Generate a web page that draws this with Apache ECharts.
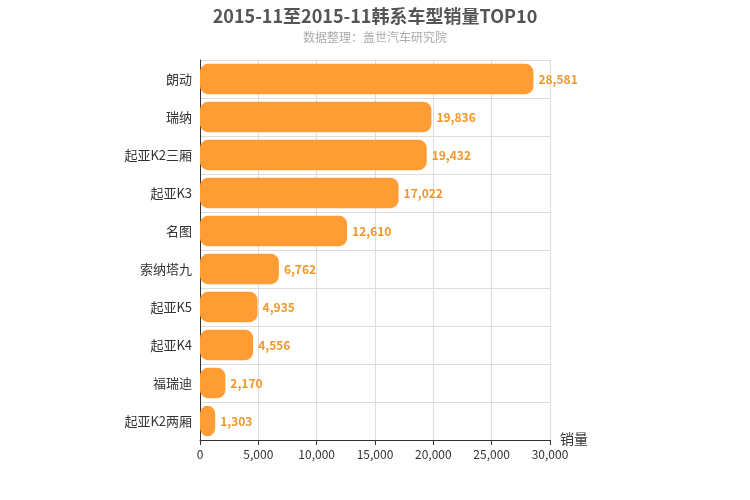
<!DOCTYPE html>
<html>
<head>
<meta charset="UTF-8">
<script src="https://cdn.jsdelivr.net/npm/echarts@6/dist/echarts.min.js"></script>
</head>
<body style="margin:0">
<div id="main" style="width:750px;height:500px"></div>
<script>
var models = ['朗动','瑞纳','起亚K2三厢','起亚K3','名图','索纳塔九','起亚K5','起亚K4','福瑞迪','起亚K2两厢'];
var sales = [28581,19836,19432,17022,12610,6762,4935,4556,2170,1303];
var font = '"Noto Sans CJK SC", sans-serif';
var chart = echarts.init(document.getElementById('main'));
chart.setOption({
  textStyle:{fontFamily:font},
  title:{
    text:'2015-11至2015-11韩系车型销量TOP10',
    subtext:'数据整理：盖世汽车研究院',
    left:'center', top:2, itemGap:6,
    textStyle:{fontSize:18,fontWeight:'bold',color:'#555',fontFamily:font},
    subtextStyle:{fontSize:12,color:'#aaa',fontFamily:font}
  },
  grid:{left:200,right:200,top:60,bottom:60},
  xAxis:{
    type:'value', min:0, max:30000, interval:5000,
    name:'销量', nameLocation:'end', nameGap:10,
    nameTextStyle:{fontSize:14,color:'#333',verticalAlign:'top',padding:[-8,0,0,0]},
    axisLine:{show:true,lineStyle:{color:'#333'}},
    axisTick:{show:true},
    axisLabel:{color:'#333',fontSize:12},
    splitLine:{lineStyle:{color:'#ddd'}}
  },
  yAxis:{
    type:'category', data:models, inverse:true,
    axisLine:{lineStyle:{color:'#333'}},
    axisTick:{show:false},
    axisLabel:{color:'#333',fontSize:13},
    splitLine:{show:true,lineStyle:{color:'#ddd'}}
  },
  series:[{
    type:'bar', data:sales, barWidth:'80%',
    itemStyle:{color:'#ff9c33',borderRadius:8},
    label:{show:true,position:'right',color:'#f0962e',fontWeight:'bold',fontSize:12,
      formatter:function(p){return p.value.toLocaleString('en-US');}}
  }]
});
</script>
</body>
</html>
